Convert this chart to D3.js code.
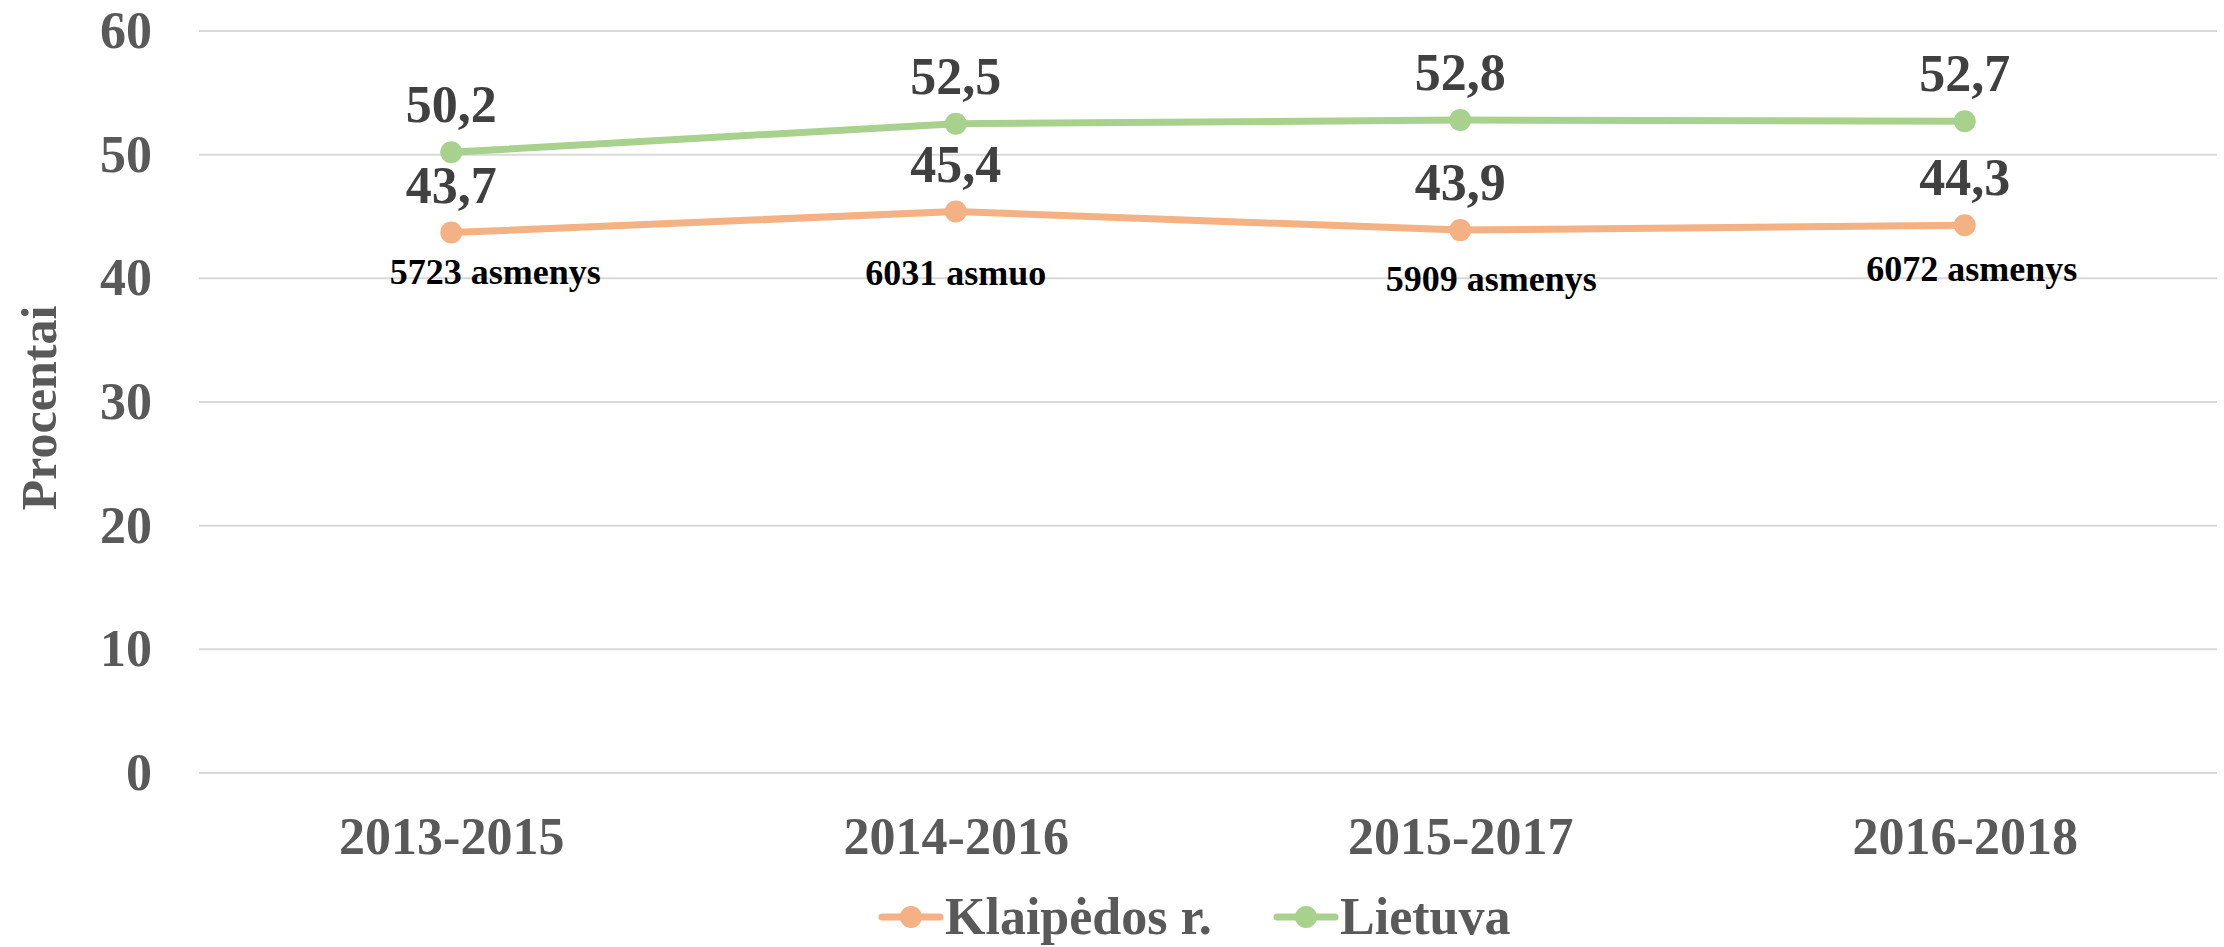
<!doctype html>
<html>
<head>
<meta charset="utf-8">
<script src="https://cdn.jsdelivr.net/npm/d3@7"></script>
<style>
  body { margin: 0; background: #fff; }
  svg { display: block; font-family: "Liberation Serif", "Times New Roman", serif; font-weight: bold; }
</style>
</head>
<body>
<svg id="chart" width="2224" height="947"></svg>
<script>
// data
var periods = ["2013-2015", "2014-2016", "2015-2017", "2016-2018"];
var klaipeda = [43.7, 45.4, 43.9, 44.3];
var lietuva = [50.2, 52.5, 52.8, 52.7];
var asmenys = ["5723 asmenys", "6031 asmuo", "5909 asmenys", "6072 asmenys"];
var yTicks = [0, 10, 20, 30, 40, 50, 60];
var seriesNames = ["Klaipėdos r.", "Lietuva"];

var colors = ["#F4B183", "#A9D18E"];

var svg = d3.select("#chart");
var plotLeft = 199, plotRight = 2217, plotTop = 31, plotBottom = 773;

var x = d3.scalePoint()
  .domain(periods)
  .range([plotLeft, plotRight])
  .padding(0.5);
var y = d3.scaleLinear()
  .domain([0, 60])
  .range([plotBottom, plotTop]);

// gridlines
svg.append("g")
  .selectAll("line")
  .data(yTicks)
  .join("line")
  .attr("x1", plotLeft).attr("x2", plotRight)
  .attr("y1", function(d) { return y(d); })
  .attr("y2", function(d) { return y(d); })
  .attr("stroke", "#D9D9D9")
  .attr("stroke-width", 2);

// y axis
var axisY = d3.axisLeft(y).tickValues(yTicks).tickSize(0).tickPadding(47);
var gy = svg.append("g").attr("transform", "translate(" + plotLeft + ",0)").call(axisY);
gy.select(".domain").remove();
gy.selectAll("text")
  .attr("font-size", 52).attr("fill", "#595959")
  .attr("font-family", "Liberation Serif").attr("font-weight", "bold");

// x axis
var axisX = d3.axisBottom(x).tickSize(0).tickPadding(44);
var gx = svg.append("g").attr("transform", "translate(0," + plotBottom + ")").call(axisX);
gx.select(".domain").remove();
gx.selectAll("text")
  .attr("font-size", 52).attr("fill", "#595959")
  .attr("font-family", "Liberation Serif").attr("font-weight", "bold");

// y title
svg.append("text")
  .attr("transform", "translate(56,408) rotate(-90)")
  .attr("text-anchor", "middle")
  .attr("font-size", 50)
  .attr("fill", "#595959")
  .text("Procentai");

// lines
var line = d3.line()
  .x(function(d, i) { return x(periods[i]); })
  .y(function(d) { return y(d); });

[klaipeda, lietuva].forEach(function(vals, s) {
  svg.append("path")
    .attr("d", line(vals))
    .attr("fill", "none")
    .attr("stroke", colors[s])
    .attr("stroke-width", 7)
    .attr("stroke-linejoin", "round");
  svg.append("g")
    .selectAll("circle")
    .data(vals)
    .join("circle")
    .attr("cx", function(d, i) { return x(periods[i]); })
    .attr("cy", function(d) { return y(d); })
    .attr("r", 11)
    .attr("fill", colors[s]);
  svg.append("g")
    .selectAll("text")
    .data(vals)
    .join("text")
    .attr("x", function(d, i) { return x(periods[i]); })
    .attr("y", function(d) { return y(d) - 30; })
    .attr("text-anchor", "middle")
    .attr("font-size", 52)
    .attr("fill", "#404040")
    .text(function(d) { return d.toFixed(1).replace(".", ","); });
});

// person counts under the Klaipeda points
var annDx = [44, 0, 31, 7];
var annDy = [51, 73, 61, 56];
svg.append("g")
  .selectAll("text")
  .data(asmenys)
  .join("text")
  .attr("x", function(d, i) { return x(periods[i]) + annDx[i]; })
  .attr("y", function(d, i) { return y(klaipeda[i]) + annDy[i]; })
  .attr("text-anchor", "middle")
  .attr("font-size", 36)
  .attr("fill", "#000")
  .text(function(d) { return d; });

// legend
var legendX = [882, 1277];
var legend = svg.append("g").attr("transform", "translate(0,917)");
seriesNames.forEach(function(name, i) {
  var g = legend.append("g").attr("transform", "translate(" + legendX[i] + ",0)");
  g.append("line").attr("x1", 0).attr("x2", 58).attr("y1", 0).attr("y2", 0)
    .attr("stroke", colors[i]).attr("stroke-width", 7).attr("stroke-linecap", "round");
  g.append("circle").attr("cx", 29).attr("cy", 0).attr("r", 11).attr("fill", colors[i]);
  g.append("text").attr("x", 63).attr("y", 17)
    .attr("font-size", 52).attr("fill", "#595959")
    .text(name);
});
</script>
</body>
</html>
